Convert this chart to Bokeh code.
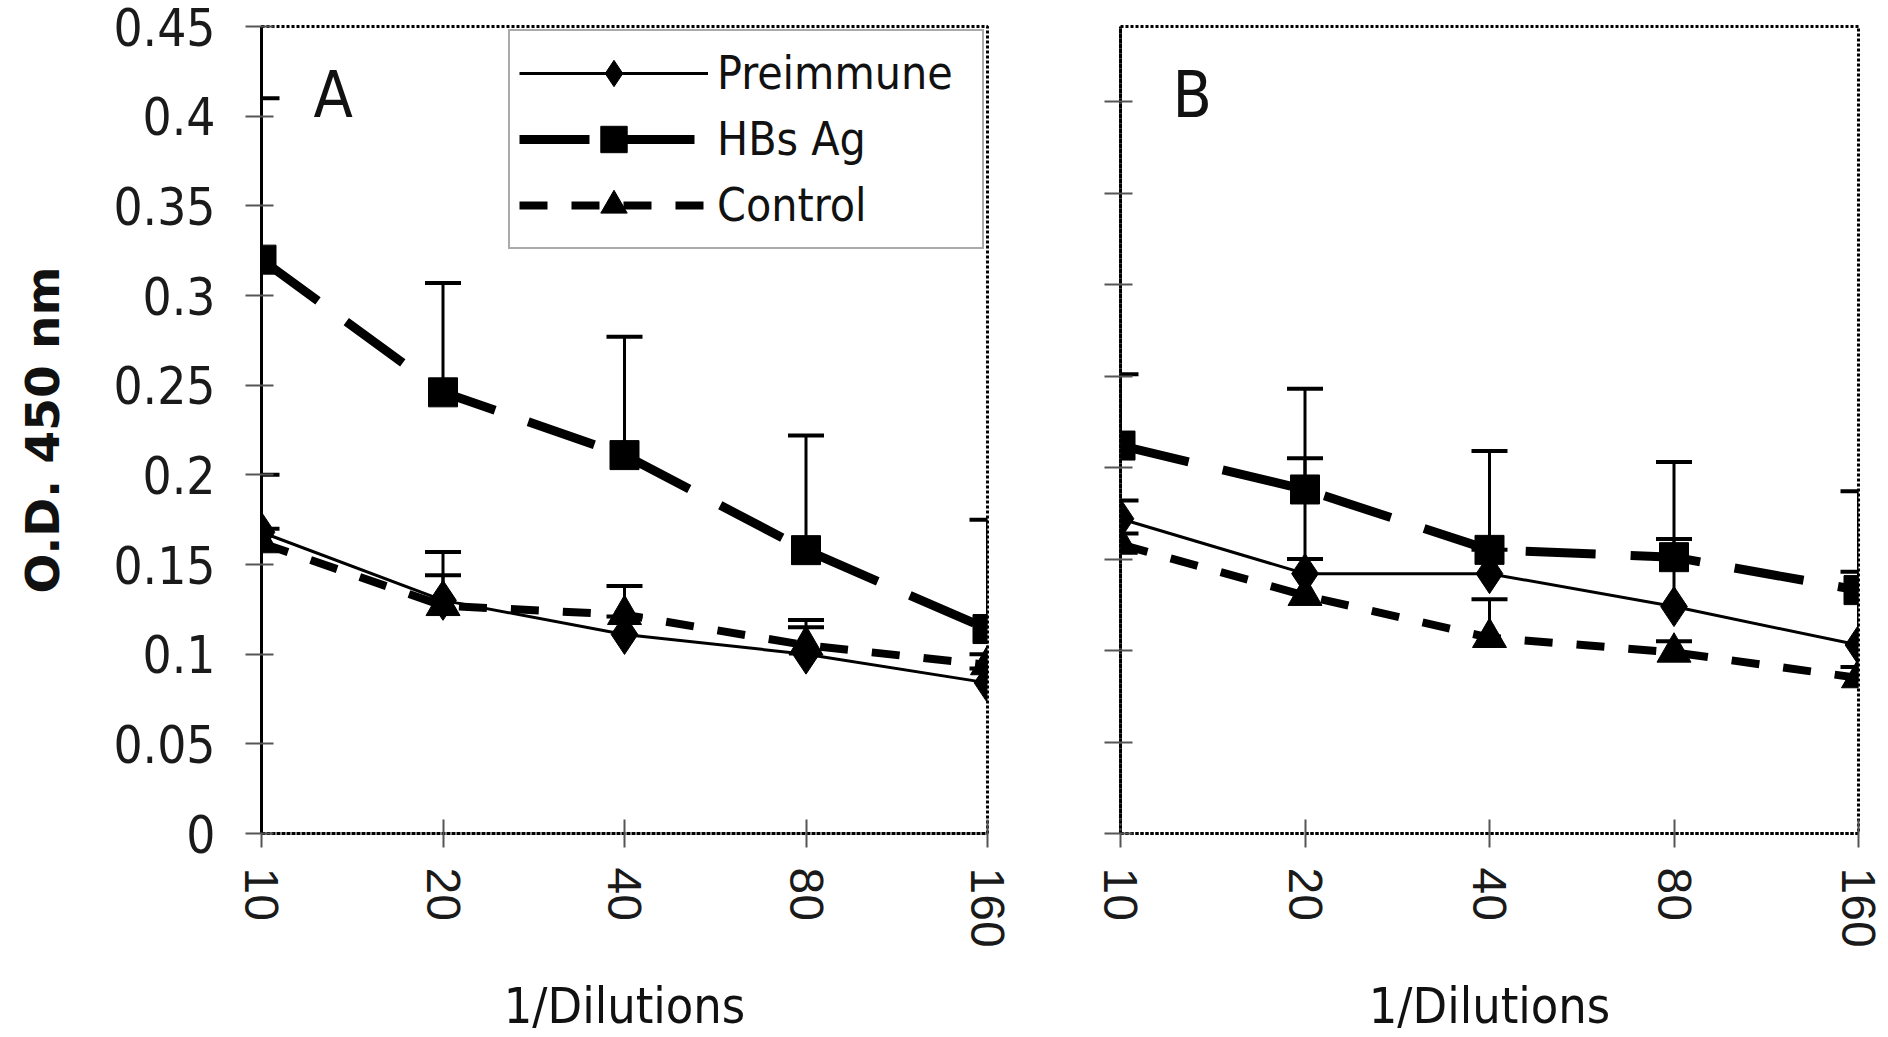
from bokeh.plotting import figure
from bokeh.layouts import row
from bokeh.models import (ColumnDataSource, Whisker, TeeHead, FixedTicker, Legend,
                          LegendItem, Label, Range1d)
from bokeh.embed import file_html
from bokeh.resources import INLINE

# ---------------- data ----------------
dilutions = [10, 20, 40, 80, 160]
x_tick_labels = ["10", "20", "40", "80", "160"]
y_ticks = [0, 0.05, 0.1, 0.15, 0.2, 0.25, 0.3, 0.35, 0.4, 0.45]
y_tick_labels = ["0", "0.05", "0.1", "0.15", "0.2", "0.25", "0.3", "0.35", "0.4", "0.45"]
series_names = ["Preimmune", "HBs Ag", "Control"]

A_preimmune = [0.168, 0.130, 0.111, 0.100, 0.084]
A_preimmune_err = [0.032, 0.027, 0.010, 0.019, 0.008]
A_hbsag = [0.320, 0.246, 0.211, 0.158, 0.114]
A_hbsag_err = [0.090, 0.061, 0.066, 0.064, 0.061]
A_control = [0.162, 0.127, 0.122, 0.105, 0.094]
A_control_err = [0.008, 0.017, 0.016, 0.010, 0.006]

B_preimmune = [0.172, 0.142, 0.142, 0.124, 0.103]
B_preimmune_err = [0.010, 0.063, 0.013, 0.037, 0.040]
B_hbsag = [0.212, 0.188, 0.155, 0.151, 0.133]
B_hbsag_err = [0.039, 0.055, 0.054, 0.052, 0.054]
B_control = [0.158, 0.130, 0.107, 0.099, 0.085]
B_control_err = [0.006, 0.020, 0.021, 0.006, 0.006]

COND = "DejaVu Sans Condensed, Liberation Sans Narrow, sans-serif"

STYLES = {
    "Preimmune": dict(line_width=3, line_dash="solid", marker="diamond", size=40),
    "HBs Ag": dict(line_width=9, line_dash="70 35", marker="square", size=29),
    "Control": dict(line_width=8, line_dash="28 24", marker="triangle", size=34),
}


def make_panel(letter, data, ytop, left, fw, right, top, fh, bottom, show_ylabels, left_solid):
    p = figure(x_axis_type="log", x_range=Range1d(10, 160), y_range=Range1d(0, ytop),
               frame_width=fw, frame_height=fh, min_border_left=left, min_border_right=right,
               min_border_top=top, min_border_bottom=bottom,
               output_backend="svg", toolbar_location=None)
    p.grid.visible = False
    p.background_fill_color = "white"
    p.border_fill_color = "white"
    p.outline_line_color = "black"
    p.outline_line_dash = "3 2"
    p.outline_line_width = 3

    # x axis
    xa = p.xaxis[0]
    xa.ticker = FixedTicker(ticks=dilutions)
    xa.major_label_overrides = dict(zip(dilutions, x_tick_labels))
    xa.major_label_orientation = "vertical"
    xa.major_label_text_font = "Liberation Sans"
    xa.major_label_text_font_size = "48px"
    xa.major_label_text_color = "#1a1a1a"
    xa.major_label_standoff = 20
    xa.axis_line_color = "black"
    xa.axis_line_dash = "3 2"
    xa.axis_line_width = 3
    xa.major_tick_in = 14
    xa.major_tick_out = 14
    xa.major_tick_line_color = "#555555"
    xa.major_tick_line_width = 2
    xa.minor_tick_line_color = None
    xa.axis_label = "1/Dilutions"
    xa.axis_label_text_font = COND
    xa.axis_label_text_font_style = "normal"
    xa.axis_label_text_font_size = "50px"
    xa.axis_label_text_color = "#111111"
    xa.axis_label_standoff = 26

    # y axis
    ya = p.yaxis[0]
    ya.ticker = FixedTicker(ticks=y_ticks)
    if show_ylabels:
        ya.major_label_overrides = dict(zip(y_ticks, y_tick_labels))
        ya.major_label_text_font = COND
        ya.major_label_text_font_size = "51px"
        ya.major_label_text_color = "#1a1a1a"
        ya.major_label_standoff = 30
        ya.axis_label = "O.D. 450 nm"
        ya.axis_label_text_font = "DejaVu Sans"
        ya.axis_label_text_font_style = "bold"
        ya.axis_label_text_font_size = "47px"
        ya.axis_label_text_color = "#111111"
        ya.axis_label_standoff = 40
    else:
        ya.major_label_overrides = {t: "" for t in y_ticks}
        ya.major_label_text_font_size = "1px"
    ya.axis_line_color = "black"
    ya.axis_line_width = 3
    ya.axis_line_dash = "solid" if left_solid else "3 2"
    ya.major_tick_in = 12
    ya.major_tick_out = 16
    ya.major_tick_line_color = "#555555"
    ya.major_tick_line_width = 2
    ya.minor_tick_line_color = None

    rends = {}
    for name, (vals, errs) in zip(series_names, data):
        st = STYLES[name]
        src = ColumnDataSource(dict(x=dilutions, y=vals,
                                    upper=[v + e for v, e in zip(vals, errs)]))
        w = Whisker(source=src, base="x", lower="y", upper="upper", dimension="height",
                    line_color="black", line_width=3,
                    upper_head=TeeHead(size=36, line_width=4, line_color="black"),
                    lower_head=None, level="glyph")
        p.add_layout(w)
        lr = p.line("x", "y", source=src, line_color="black", line_width=st["line_width"],
                    line_dash=st["line_dash"])
        mr = p.scatter("x", "y", source=src, marker=st["marker"], size=st["size"],
                       fill_color="black", line_color="black")
        rends[name] = (lr, mr)

    p.add_layout(Label(x=52, y=739, x_units="screen", y_units="screen", text=letter,
                       text_font=COND, text_font_size="64px", text_color="#111111",
                       text_align="left", text_baseline="middle"))
    return p, rends


pA, rA = make_panel("A", [(A_preimmune, A_preimmune_err), (A_hbsag, A_hbsag_err),
                          (A_control, A_control_err)],
                    0.45, 261, 726, 32, 26, 807, 202, True, True)
pB, rB = make_panel("B", [(B_preimmune, B_preimmune_err), (B_hbsag, B_hbsag_err),
                          (B_control, B_control_err)],
                    0.441, 101, 738, 28, 26, 807, 202, False, False)

items = [LegendItem(label=name, renderers=list(rA[name])) for name in series_names]
legend = Legend(items=items, location="top_right", margin=3, padding=9,
                glyph_width=189, glyph_height=66, label_height=66, spacing=0,
                label_width=256, label_standoff=9,
                label_text_font=COND, label_text_font_size="46px",
                label_text_color="#111111",
                border_line_color="#555555", border_line_width=2,
                background_fill_color="white", background_fill_alpha=1)
pA.add_layout(legend)

layout = row(pA, pB)
open("out.html", "w").write(file_html(layout, INLINE))
